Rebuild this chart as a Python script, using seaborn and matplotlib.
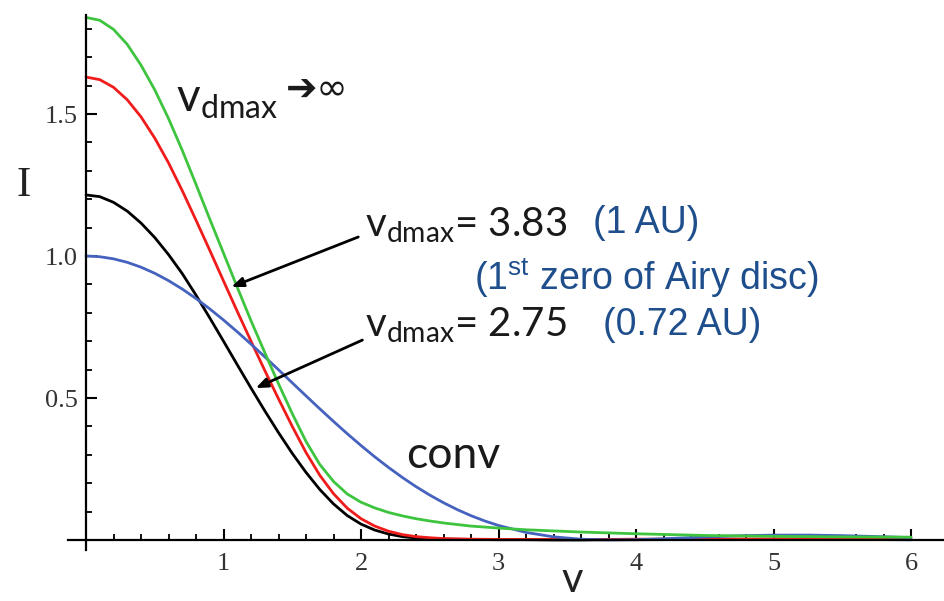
import numpy as np
import pandas as pd
import matplotlib
matplotlib.use("Agg")
import matplotlib.pyplot as plt
from matplotlib.ticker import FixedLocator, NullFormatter
import seaborn as sns

# ---------------- data ----------------
v_grid = [0.0, 0.1, 0.2, 0.3, 0.4, 0.5, 0.6, 0.7, 0.8, 0.9, 1.0, 1.1, 1.2,
          1.3, 1.4, 1.5, 1.6, 1.7, 1.8, 1.9, 2.0, 2.1, 2.2, 2.3, 2.4, 2.5,
          2.6, 2.8, 3.0, 3.2, 3.4, 3.6, 3.8, 4.0, 4.5, 5.0, 5.5, 6.0]
I_inf = [1.840, 1.830, 1.798, 1.745, 1.672, 1.585, 1.484, 1.372, 1.252,
         1.130, 1.010, 0.890, 0.772, 0.660, 0.550, 0.445, 0.347, 0.266,
         0.206, 0.162, 0.133, 0.113, 0.097, 0.085, 0.075, 0.067, 0.060,
         0.049, 0.042, 0.036, 0.032, 0.028, 0.025, 0.022, 0.016, 0.013,
         0.011, 0.010]
I_383 = [1.630, 1.621, 1.594, 1.550, 1.490, 1.415, 1.328, 1.230, 1.126,
         1.020, 0.912, 0.805, 0.700, 0.597, 0.497, 0.400, 0.308, 0.228,
         0.163, 0.112, 0.075, 0.049, 0.031, 0.019, 0.012, 0.008, 0.005,
         0.003, 0.002, 0.002, 0.002, 0.002, 0.002, 0.003, 0.003, 0.004,
         0.004, 0.003]
I_275 = [1.215, 1.209, 1.189, 1.158, 1.116, 1.065, 1.005, 0.938, 0.862,
         0.782, 0.700, 0.617, 0.535, 0.455, 0.378, 0.305, 0.238, 0.178,
         0.127, 0.086, 0.056, 0.035, 0.021, 0.012, 0.007, 0.004, 0.003,
         0.002, 0.001, 0.001, 0.000, 0.000, 0.001, 0.001, 0.002, 0.002,
         0.002, 0.001]
v_conv = [0.0, 0.1, 0.2, 0.3, 0.4, 0.5, 0.6, 0.7, 0.8, 0.9, 1.0, 1.1, 1.2,
          1.3, 1.4, 1.5, 1.6, 1.7, 1.8, 1.9, 2.0, 2.1, 2.2, 2.3, 2.4, 2.5,
          2.6, 2.7, 2.8, 2.9, 3.0, 3.2, 3.4, 3.6, 3.8, 4.0, 4.25, 4.5, 4.75,
          5.0, 5.25, 5.5, 5.75, 6.0]
I_conv = [1.0, 0.9975, 0.990, 0.9777, 0.9607, 0.9391, 0.9133, 0.8836,
          0.8503, 0.8138, 0.7746, 0.7331, 0.6897, 0.6450, 0.5994, 0.5534,
          0.5075, 0.4620, 0.4175, 0.3742, 0.3326, 0.2929, 0.2555, 0.2204,
          0.1879, 0.1581, 0.1312, 0.1070, 0.0856, 0.0670, 0.0511, 0.0267,
          0.0111, 0.0028, 0.0001, 0.0011, 0.0053, 0.0106, 0.0149, 0.0172,
          0.0173, 0.0154, 0.0122, 0.0085]

x_major = [1, 2, 3, 4, 5, 6]
x_major_labels = ["1", "2", "3", "4", "5", "6"]
y_major = [0.5, 1.0, 1.5]
y_major_labels = ["0.5", "1.0", "1.5"]

# ---------------- style ----------------
sns.set_style("white")
plt.rcParams["mathtext.fontset"] = "custom"
plt.rcParams["mathtext.rm"] = "Lato"
plt.rcParams["mathtext.sf"] = "Liberation Sans"
plt.rcParams["mathtext.it"] = "Lato:italic"
plt.rcParams["font.family"] = ["Lato", "DejaVu Sans"]

W, H = 945, 601
fig = plt.figure(figsize=(W / 100, H / 100), dpi=100)
ax = fig.add_axes([68 / W, (H - 550) / H, (W - 68) / W, (550 - 15) / H])
ax.set_facecolor("white")

series = [
    (v_grid, I_275, "#000000"),
    (v_grid, I_383, "#F01C1C"),
    (v_conv, I_conv, "#4562BE"),
    (v_grid, I_inf, "#3EC43E"),
]
for xs, ys, col in series:
    df = pd.DataFrame({"v": xs, "I": ys})
    sns.lineplot(data=df, x="v", y="I", ax=ax, color=col, lw=2.0,
                 sort=False, estimator=None, clip_on=False)

ax.set_xlim(-0.131, 6.247)
ax.set_ylim(-0.0352, 1.8486)
ax.set_xlabel("")
ax.set_ylabel("")

for s in ["top", "right"]:
    ax.spines[s].set_visible(False)
ax.spines["left"].set_position(("data", 0))
ax.spines["bottom"].set_position(("data", 0))
for s in ["left", "bottom"]:
    ax.spines[s].set_linewidth(1.6)
    ax.spines[s].set_color("black")

ax.xaxis.set_major_locator(FixedLocator(x_major))
ax.set_xticklabels(x_major_labels)
ax.yaxis.set_major_locator(FixedLocator(y_major))
ax.set_yticklabels(y_major_labels)
x_minor = [round(0.2 * k, 2) for k in range(1, 30) if k % 5 != 0]
y_minor = [round(0.1 * k, 2) for k in range(1, 19) if k % 5 != 0]
ax.xaxis.set_minor_locator(FixedLocator(x_minor))
ax.yaxis.set_minor_locator(FixedLocator(y_minor))
ax.xaxis.set_minor_formatter(NullFormatter())
ax.yaxis.set_minor_formatter(NullFormatter())

ax.tick_params(axis="both", which="both", bottom=True, left=True,
               top=False, right=False)
ax.tick_params(axis="both", which="major", direction="in", length=8,
               width=1.5, color="black", labelsize=19, labelcolor="#333333")
ax.tick_params(axis="both", which="minor", direction="in", length=4.5,
               width=1.3, color="black")
ax.tick_params(axis="x", which="major", pad=9)
ax.tick_params(axis="y", which="major", pad=6)
for lab in ax.get_xticklabels() + ax.get_yticklabels():
    lab.set_fontfamily("Liberation Serif")

# axis labels
fig.text(17 / W, 1 - 196 / H, "I", fontsize=31, family="Liberation Serif",
         color="#222222", ha="left", va="baseline")
fig.text(562 / W, 1 - 592 / H, "v", fontsize=30, color="#222222",
         ha="left", va="baseline")

# annotations
txtc = "#1a1a1a"
ax.text(0.652, 1.507, r"$\mathrm{v}_{\mathrm{dmax}}$",
        fontsize=33, color=txtc, ha="left", va="baseline")
ax.text(1.45, 1.545, "\u2794\u221e", fontsize=27, color=txtc,
        family="DejaVu Sans", ha="left", va="baseline")
ax.text(2.03, 1.067, r"$\mathrm{v}_{\mathrm{dmax}}$= 3.83", fontsize=29,
        color=txtc, ha="left", va="baseline")
ax.text(2.03, 0.715, r"$\mathrm{v}_{\mathrm{dmax}}$= 2.75", fontsize=29,
        color=txtc, ha="left", va="baseline")
ax.text(2.33, 0.254, "conv", fontsize=32, color=txtc, ha="left",
        va="baseline")

bluec = "#1F4E8C"
ax.text(3.69, 1.081, "(1 AU)", fontsize=27, color=bluec,
        family="Liberation Sans", ha="left", va="baseline")
ax.text(2.82, 0.88, r"(1$^{\mathsf{st}}$ zero of Airy disc)", fontsize=27,
        color=bluec, family="Liberation Sans", ha="left", va="baseline")
ax.text(3.76, 0.722, "(0.72 AU)", fontsize=27, color=bluec,
        family="Liberation Sans", ha="left", va="baseline")

arrow = dict(arrowstyle="-|>,head_length=0.7,head_width=0.28", lw=2.0,
             color="black", shrinkA=0, shrinkB=0)
ax.annotate("", xy=(1.057, 0.891), xytext=(1.98, 1.067), arrowprops=arrow)
ax.annotate("", xy=(1.234, 0.535), xytext=(2.01, 0.704), arrowprops=arrow)

fig.savefig("out.png", dpi=100, facecolor="white")
